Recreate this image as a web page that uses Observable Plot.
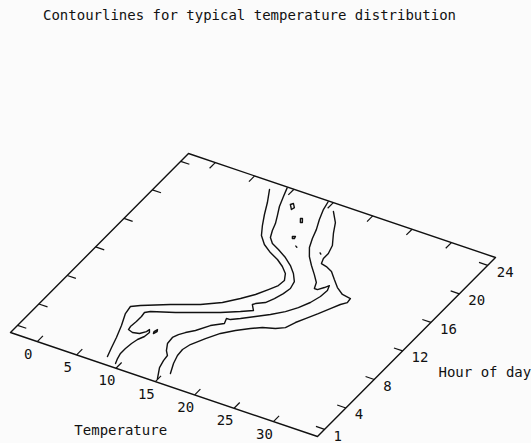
<!DOCTYPE html>
<html><head><meta charset="utf-8">
<script src="https://cdn.jsdelivr.net/npm/d3@7"></script>
<script src="https://cdn.jsdelivr.net/npm/@observablehq/plot@0.6"></script>
<style>
html,body{margin:0;padding:0;background:#fbfbfb;width:531px;height:443px;overflow:hidden;}
#title{font-family:"DejaVu Sans Mono",monospace;font-size:14px;height:30px;line-height:30px;padding-left:43px;color:#111;white-space:nowrap;}
#chart svg{display:block;}
</style></head><body>
<div id="title">Contourlines for typical temperature distribution</div>
<div id="chart"></div>
<script>
// ---- data ----
const tempTicks = [0, 5, 10, 15, 20, 25, 30];
const hourTicks = [1, 4, 8, 12, 16, 20, 24];
const tempRange = [-3.4, 35.6];
const hourRange = [0, 25.1];
const xLabel = "Temperature";
const yLabel = "Hour of day";
// contour lines as [temperature, hour]
const contour1 = [[7.7,24.2],[8.73,22.76],[9.58,21.4],[10.43,20.17],[11.28,19.09],[12.41,18.25],[13.74,17.62],[15.07,17.14],[16.2,16.58],[17.15,15.95],[17.72,15.18],[17.62,14.44],[17.05,13.67],[16.29,12.69],[15.24,11.74],[13.9,10.68],[12.0,9.69],[9.15,8.62],[6.4,7.45],[5.54,6.99],[5.73,6.07],[6.49,4.67],[7.14,3.24],[7.62,2.02],[8.09,0.92]];
const contour2 = [[9.22,25.0],[9.69,23.96],[10.25,22.77],[10.91,21.75],[11.48,20.84],[11.85,20.0],[12.32,19.2],[13.08,18.64],[14.22,18.22],[15.64,17.63],[16.87,16.97],[17.91,16.24],[18.76,15.43],[19.04,14.56],[18.85,13.78],[18.47,12.94],[17.99,12.2],[17.14,11.74],[16.94,11.53],[17.61,10.94],[16.47,10.37],[14.66,9.56],[12.76,8.85],[10.39,7.96],[7.92,7.17],[7.44,6.86],[7.54,6.33],[7.53,5.62],[7.43,4.89],[7.53,4.5],[8.19,4.33],[8.95,4.48],[9.43,4.93],[9.53,5.24],[9.81,4.93],[9.71,4.34],[9.33,3.78],[9.14,3.15],[9.04,2.4],[9.03,1.71],[9.23,1.07],[9.51,0.48]];
const contour3 = [[14.43,25.0],[14.72,24.01],[15.28,22.82],[15.94,21.66],[16.41,20.58],[16.98,19.53],[17.83,18.58],[18.87,17.72],[20.0,16.87],[20.94,16.11],[21.32,15.41],[21.71,15.41],[22.18,15.87],[22.47,16.25],[22.75,15.66],[22.65,14.79],[22.26,13.8],[21.6,12.84],[20.75,11.96],[19.6,11.12],[18.37,10.38],[17.13,9.64],[16.27,9.17],[15.8,9.14],[16.08,8.54],[14.94,7.83],[13.99,6.78],[13.23,6.21],[12.75,5.75],[12.46,5.23],[12.56,4.42],[13.12,3.65],[13.69,3.16],[13.79,2.49],[14.07,1.62],[14.92,0.39]];
const contour4 = [[15.86,24.16],[17.08,23.08],[17.93,21.86],[18.97,20.56],[19.34,19.58],[19.35,18.87],[19.63,18.28],[20.38,18.14],[21.34,17.8],[22.37,17.06],[23.42,16.33],[24.55,15.78],[25.69,15.64],[25.78,15.11],[25.3,14.66],[24.73,13.88],[24.06,12.92],[23.31,11.94],[22.73,11.17],[22.26,10.28],[21.4,9.83],[20.07,9.47],[19.02,8.94],[17.79,8.2],[16.64,7.36],[15.7,6.29],[14.83,5.13],[14.55,4.33],[14.64,3.52],[15.02,2.54],[15.67,1.38]];
// small closed contour islands
const island1 = [[11.1,23.37],[11.3,23.58],[11.77,23.19],[11.68,22.88]];
const island2 = [[13.38,22.26],[13.57,22.33],[13.94,21.91],[13.75,21.84]];
const island3 = [[14.32,20.08],[14.61,20.19],[14.7,19.94],[14.51,19.87]];
const island4 = [[15.55,19.2],[15.75,19.12]];
const island5 = [[18.5,19.35],[18.68,19.25]];
const island6 = [[10.28,4.97],[10.45,5.3],[10.29,5.53],[10.15,5.2]];

const contours = [contour1, contour2, contour3, contour4];
const islands = [island1, island2, island3, island4, island5, island6];

// ---- layout of the tilted base plane on the page (pixels) ----
const O = [10, 332], U = [307, 104], V = [178, -179];
const TOP = 30, W = 531, H = 413;
const [T0, T1] = tempRange, [H0, H1] = hourRange;
function proj(t, h) {
  const a = (t - T0) / (T1 - T0), b = (h - H0) / (H1 - H0);
  return [O[0] + a * U[0] + b * V[0], O[1] + a * U[1] + b * V[1]];
}
const pt = ([t, h], id) => { const p = proj(t, h); return {x: p[0], y: p[1], id}; };

const lineRows = [];
contours.forEach((c, i) => c.forEach(p => lineRows.push(pt(p, "c" + i))));
islands.forEach((c, i) => [...c, c[0]].forEach(p => lineRows.push(pt(p, "i" + i))));
const frame = [[T0,H0],[T1,H0],[T1,H1],[T0,H1],[T0,H0]].map(p => pt(p, "f"));

const tl = 0.8, hl = 1.1;
const tickRows = [];
tempTicks.forEach(t => { tickRows.push([proj(t,H0), proj(t,H0+tl)]); tickRows.push([proj(t,H1), proj(t,H1-tl)]); });
hourTicks.forEach(h => { tickRows.push([proj(T1,h), proj(T1-hl,h)]); tickRows.push([proj(T0,h), proj(T0+hl,h)]); });

const font = "DejaVu Sans Mono";
const chart = Plot.plot({
  width: W, height: H,
  marginTop: 0, marginRight: 0, marginBottom: 0, marginLeft: 0,
  x: {domain: [0, W], range: [0, W], axis: null},
  y: {domain: [TOP, TOP + H], range: [0, H], axis: null},
  style: {background: "transparent", color: "#111"},
  marks: [
    Plot.line(frame, {x: "x", y: "y", stroke: "#111", strokeWidth: 1.4}),
    Plot.link(tickRows, {x1: d => d[0][0], y1: d => d[0][1], x2: d => d[1][0], y2: d => d[1][1], stroke: "#111", strokeWidth: 1.2}),
    Plot.line(lineRows, {x: "x", y: "y", z: "id", stroke: "#111", strokeWidth: 1.4, strokeLinejoin: "round"}),
    Plot.text(tempTicks, {x: t => proj(t,H0)[0], y: t => proj(t,H0)[1], text: d => String(d), dx: -9, dy: 12.5, fontSize: 14, fontFamily: font, fill: "#111"}),
    Plot.text(hourTicks, {x: h => proj(T1,h)[0], y: h => proj(T1,h)[1], text: d => String(d), dx: 9, dy: 7, textAnchor: "start", fontSize: 14, fontFamily: font, fill: "#111"}),
    Plot.text([xLabel], {x: () => proj(12,H0)[0], y: () => proj(12,H0)[1], text: d => d, dx: -11, dy: 57, fontSize: 14, fontFamily: font, fill: "#111"}),
    Plot.text([yLabel], {x: () => proj(T1,(H0+H1)/2)[0], y: () => proj(T1,(H0+H1)/2)[1], text: d => d, dx: 32, dy: 25.5, textAnchor: "start", fontSize: 14, fontFamily: font, fill: "#111"})
  ]
});
document.getElementById("chart").appendChild(chart);
</script>
</body></html>
